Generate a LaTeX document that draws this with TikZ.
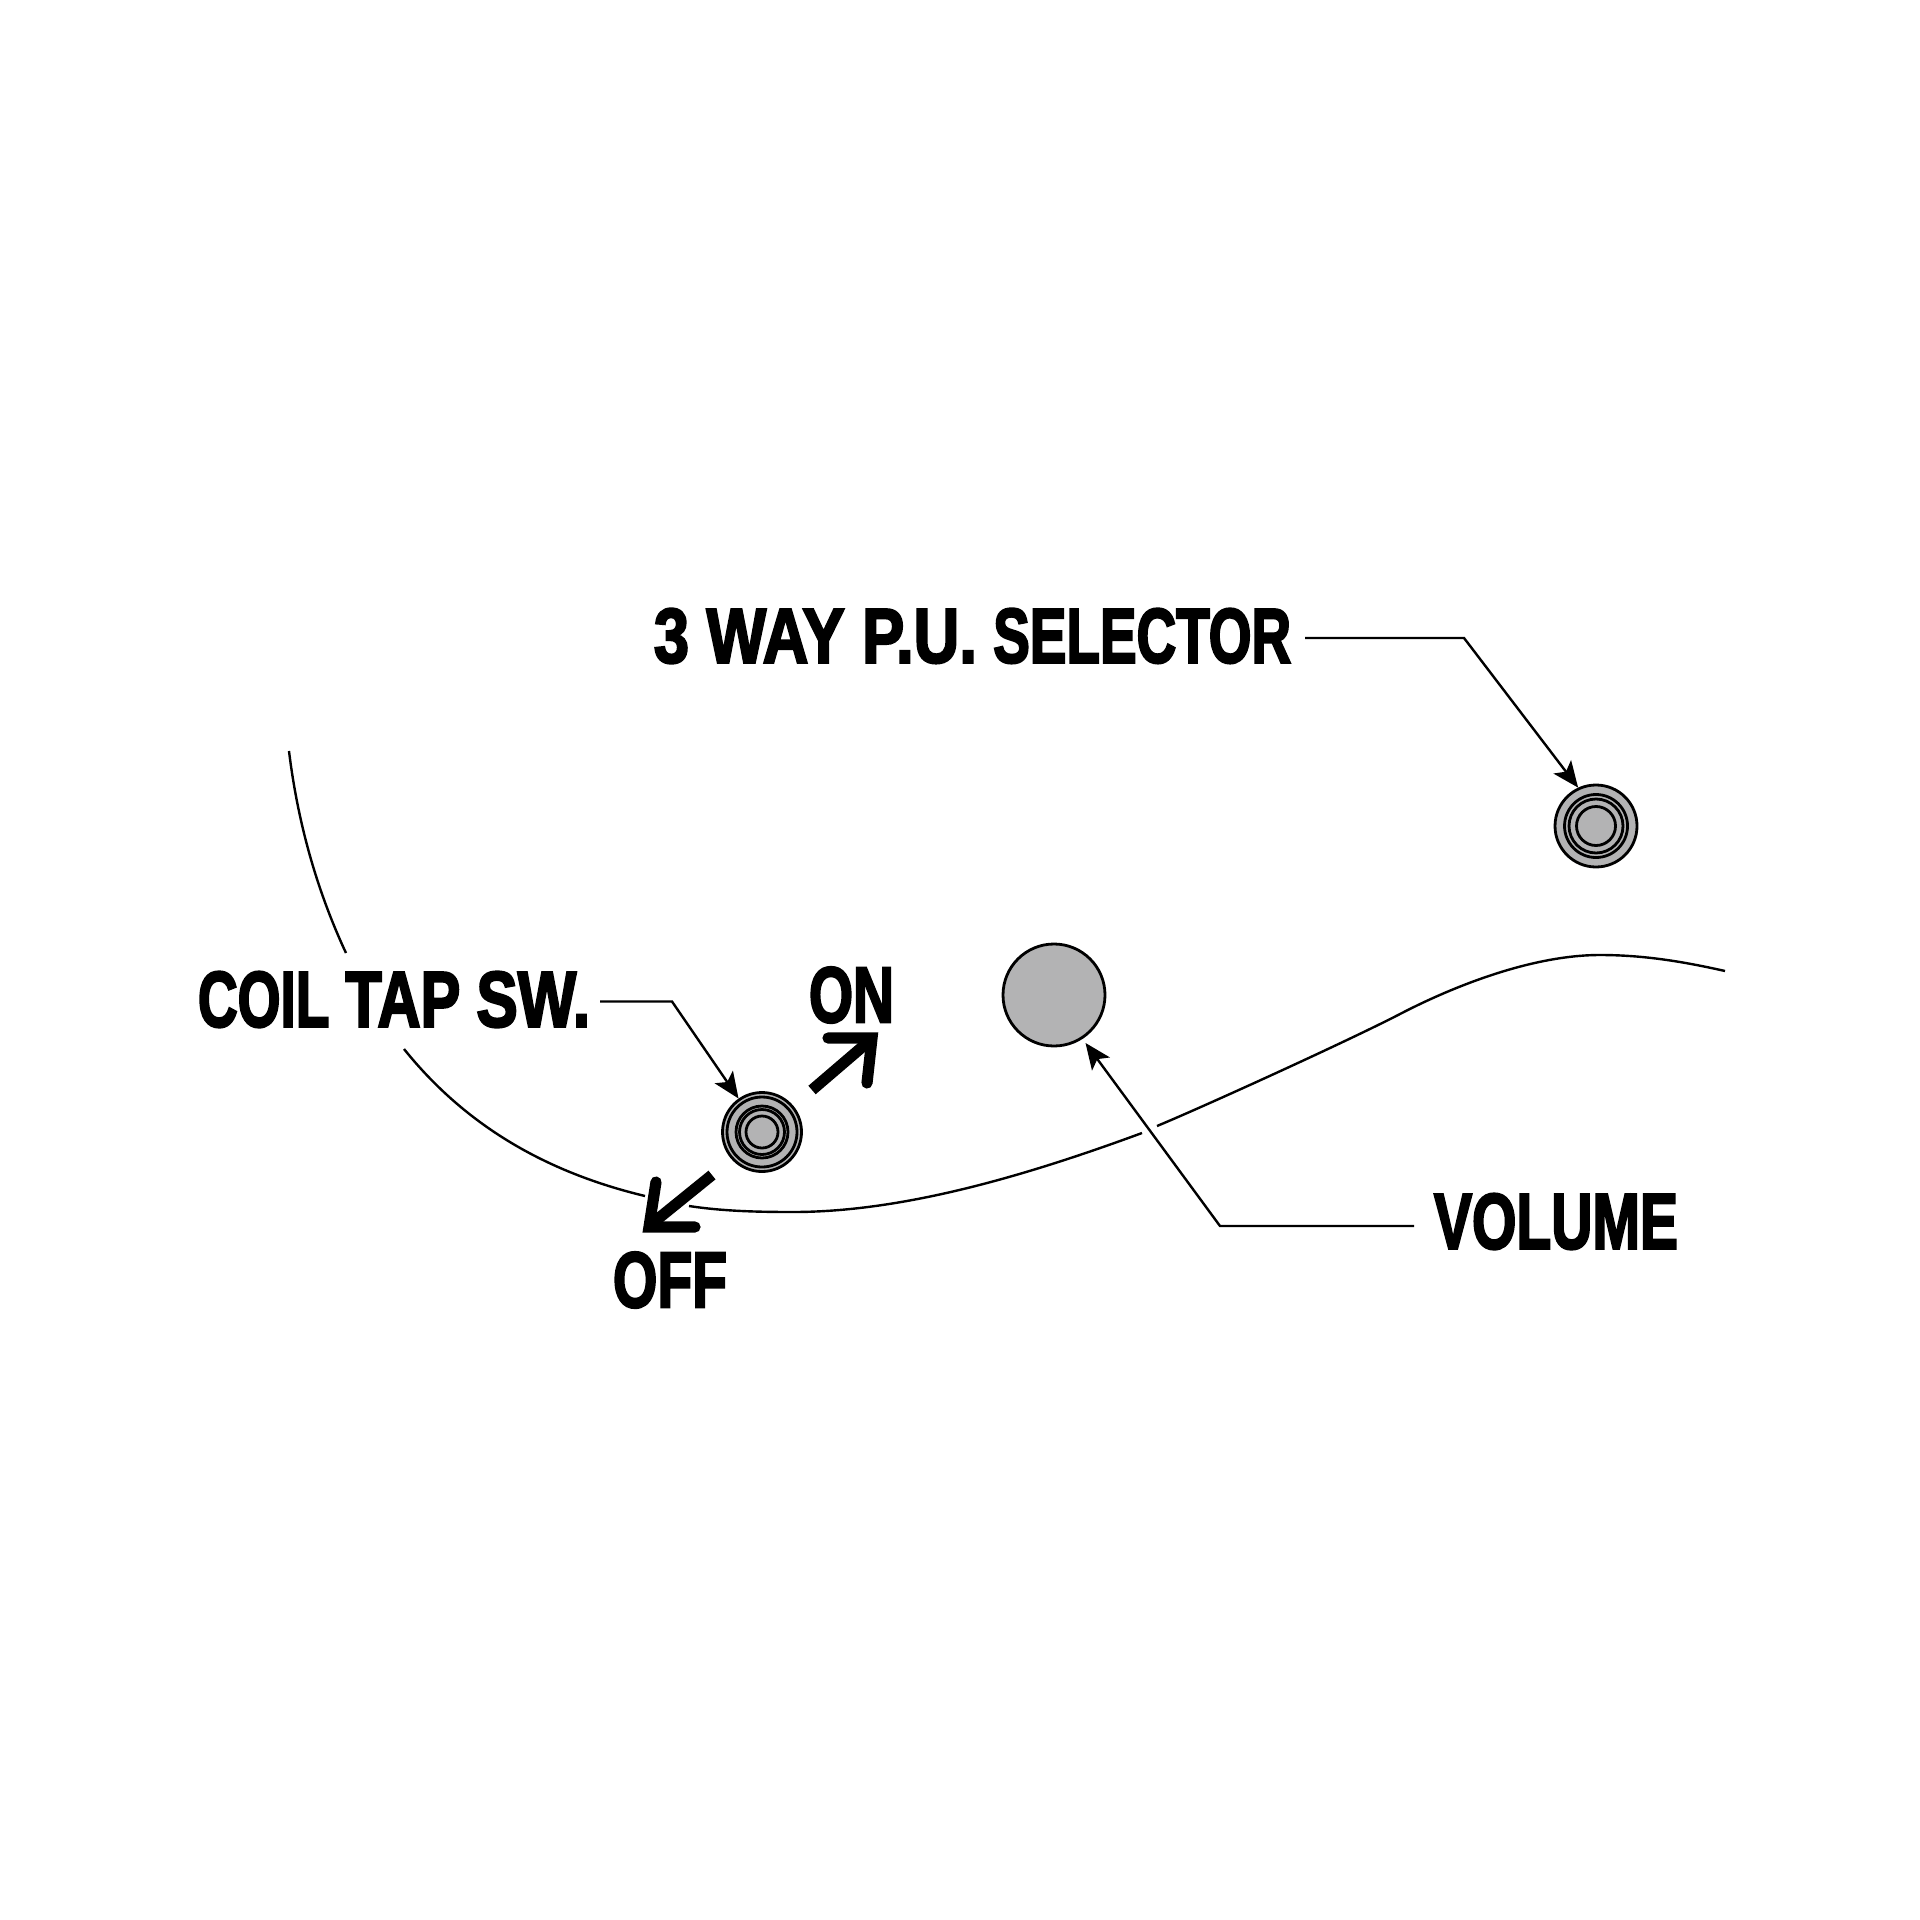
\documentclass[tikz,border=0pt]{standalone}
\usepackage{graphicx}
\usepackage{fontspec}
\setmainfont{Liberation Sans}[BoldFont={Liberation Sans Bold},BoldFeatures={FakeBold=3.2}]
\usetikzlibrary{arrows.meta}
\definecolor{knob}{HTML}{B3B3B4}
\newcommand{\lbl}[3]{\resizebox{#1pt}{#2pt}{\bfseries #3}}
\newcommand{\wordw}[2]{\scalebox{#1}[1]{#2}}
\tikzset{
  x=0.5pt,y=-0.5pt,
  label text/.style={inner sep=0pt,outer ysep=0pt,outer xsep=6.5pt,text=black},
  body/.style={line width=1.2pt,black},
  leader/.style={line width=1.2pt,black,-{Stealth[length=13pt,width=11pt,inset=3pt]}},
  ring/.style={circle,draw=black,line width=1.4pt,inner sep=0pt,fill=knob},
  thin ring/.style={draw=black,line width=1.4pt},
  shaft/.style={line width=5.6pt,black,line cap=butt},
  barb/.style={line width=5.6pt,black,line cap=round,line join=miter,miter limit=10},
}
\begin{document}
\begin{tikzpicture}
\useasboundingbox (0,0) rectangle (1920,1920);
% body outline
\draw[body] (289,751) .. controls (298,825) and (318,893) .. (346,953);
\draw[body] (404,1049) .. controls (465,1125) and (545,1172) .. (645,1196);
\draw[body] (689,1206) .. controls (722,1211) and (755,1212) .. (793,1212) .. controls (900,1212) and (1020,1178) .. (1142,1133);
\draw[body] (1157,1126) .. controls (1205,1106) and (1350,1040) .. (1400,1014) .. controls (1450,988) and (1530,955) .. (1600,955) .. controls (1645,955) and (1685,962) .. (1725,971);
% knobs
\node[ring,minimum size=41pt] (sel) at (1596,826) {};
\foreach \r in {31.5,27,19.5} \draw[thin ring] (sel.center) circle[radius=\r];
\node[ring,minimum size=39.5pt] (coil) at (762,1132) {};
\foreach \r in {35,26,22.5,16} \draw[thin ring] (coil.center) circle[radius=\r];
\node[ring,minimum size=51pt] (vol) at (1054,995) {};
% labels
\node[label text,outer xsep=7pt] (lab3) at (972.5,636) {\lbl{318.5}{27}{\wordw{1.07}{3 WAY P.U.} \wordw{.93}{SELECTOR}}};
\node[label text,outer xsep=5pt] (labc) at (394,999.5) {\lbl{196}{27.5}{\wordw{.95}{COIL} \wordw{1.03}{TAP} \wordw{1.07}{SW.}}};
\node[label text,outer xsep=10pt] (labv) at (1556,1221.5) {\lbl{122}{27.5}{VOLUME}};
\node[label text,outer xsep=0pt] (labon) at (851.5,995) {\lbl{42.5}{27.5}{ON}};
\node[label text,outer xsep=0pt] (laboff) at (670,1280) {\lbl{57}{27.5}{OFF}};
% leaders
\coordinate (b3) at (1464,638);
\coordinate (bc) at (672,1001.5);
\coordinate (bv) at (1220,1226);
\draw[leader] (lab3.east |- b3) -- (b3) -- (sel.115);
\draw[leader] (labc.east |- bc) -- (bc) -- (coil.125);
\draw[leader,shorten >=2.5pt] (labv.west |- bv) -- (bv) -- (vol.-57);
% on / off arrows
\coordinate (ons) at (812,1090);
\coordinate (ont) at (868,1042);
\coordinate (ofs) at (712,1175);
\coordinate (oft) at (654,1222);
\draw[shaft] (ons) -- (ont);
\draw[barb] (828,1038) -- (872,1038) -- (867,1083);
\draw[shaft] (ofs) -- (oft);
\draw[barb] (656,1182) -- (649,1227) -- (695,1227);
\end{tikzpicture}
\end{document}
